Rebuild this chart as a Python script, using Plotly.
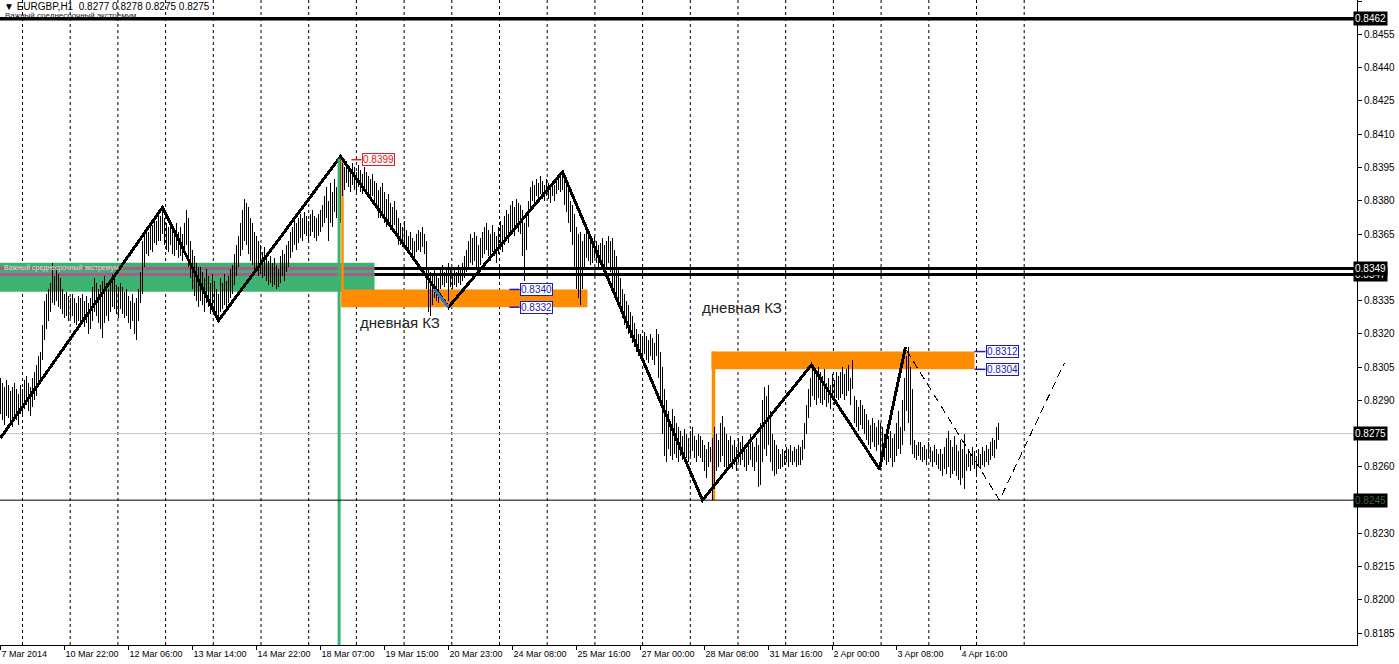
import plotly.graph_objects as go

# ---------------- data ----------------
title_text = "EURGBP,H1  0.8277 0.8278 0.8275 0.8275"
subtitle_text = "Важный среднесрочный экстремум"
zone_label = "дневная КЗ"

highs = [
    0.8300,0.8298,0.8296,0.8299,0.8297,0.8294,0.8296,0.8298,0.8295,0.8293,
    0.8297,0.8295,0.8299,0.8301,0.8298,0.8296,0.8300,0.8303,0.8306,0.8310,
    0.8312,0.8324,0.8335,0.8338,0.8340,0.8343,0.8352,0.8346,0.8349,0.8347,
    0.8345,0.8340,0.8338,0.8339,0.8337,0.8336,0.8338,0.8336,0.8334,0.8337,
    0.8336,0.8338,0.8335,0.8337,0.8334,0.8336,0.8341,0.8345,0.8343,0.8340,
    0.8342,0.8344,0.8346,0.8343,0.8340,0.8344,0.8347,0.8345,0.8342,0.8341,
    0.8343,0.8341,0.8339,0.8340,0.8337,0.8335,0.8338,0.8334,0.8336,0.8340,
    0.8348,0.8362,0.8365,0.8368,0.8366,0.8370,0.8369,0.8372,0.8371,0.8374,
    0.8373,0.8377,0.8372,0.8370,0.8368,0.8371,0.8369,0.8367,0.8370,0.8366,
    0.8368,0.8365,0.8370,0.8376,0.8372,0.8362,0.8358,0.8355,0.8352,0.8350,
    0.8350,0.8348,0.8345,0.8349,0.8346,0.8343,0.8347,0.8344,0.8340,0.8338,
    0.8345,0.8343,0.8347,0.8344,0.8346,0.8349,0.8351,0.8356,0.8360,0.8364,
    0.8370,0.8376,0.8381,0.8379,0.8377,0.8372,0.8370,0.8366,0.8364,0.8362,
    0.8360,0.8357,0.8359,0.8356,0.8353,0.8355,0.8352,0.8354,0.8351,0.8349,
    0.8355,0.8358,0.8356,0.8360,0.8362,0.8366,0.8368,0.8371,0.8370,0.8372,
    0.8374,0.8372,0.8375,0.8373,0.8371,0.8374,0.8376,0.8373,0.8372,0.8374,
    0.8376,0.8378,0.8382,0.8386,0.8380,0.8388,0.8384,0.8390,0.8386,0.8393,
    0.8399,0.8397,0.8395,0.8398,0.8396,0.8394,0.8397,0.8395,0.8393,0.8396,
    0.8394,0.8392,0.8395,0.8393,0.8391,0.8390,0.8392,0.8389,0.8388,0.8385,
    0.8386,0.8388,0.8384,0.8381,0.8383,0.8379,0.8377,0.8380,0.8376,0.8372,
    0.8370,0.8368,0.8371,0.8367,0.8364,0.8366,0.8363,0.8362,0.8365,0.8367,
    0.8366,0.8368,0.8365,0.8362,0.8350,0.8348,0.8346,0.8349,0.8347,0.8345,
    0.8349,0.8351,0.8348,0.8350,0.8352,0.8349,0.8347,0.8350,0.8348,0.8351,
    0.8350,0.8352,0.8355,0.8358,0.8362,0.8365,0.8363,0.8366,0.8364,0.8360,
    0.8363,0.8366,0.8368,0.8370,0.8367,0.8365,0.8369,0.8366,0.8364,0.8368,
    0.8371,0.8369,0.8373,0.8376,0.8374,0.8378,0.8380,0.8377,0.8381,0.8379,
    0.8378,0.8376,0.8370,0.8374,0.8380,0.8386,0.8389,0.8387,0.8390,0.8388,
    0.8391,0.8389,0.8387,0.8390,0.8388,0.8386,0.8389,0.8387,0.8390,0.8392,
    0.8391,0.8393,0.8390,0.8388,0.8385,0.8380,0.8378,0.8374,0.8368,0.8365,
    0.8366,0.8362,0.8365,0.8368,0.8366,0.8363,0.8361,0.8364,0.8362,0.8360,
    0.8361,0.8363,0.8360,0.8362,0.8364,0.8362,0.8363,0.8358,0.8355,0.8350,
    0.8345,0.8340,0.8338,0.8335,0.8333,0.8330,0.8328,0.8325,0.8322,0.8320,
    0.8320,0.8318,0.8321,0.8319,0.8317,0.8320,0.8318,0.8316,0.8322,0.8320,
    0.8312,0.8305,0.8295,0.8290,0.8285,0.8280,0.8286,0.8283,0.8280,0.8278,
    0.8276,0.8274,0.8277,0.8275,0.8273,0.8276,0.8278,0.8274,0.8272,0.8275,
    0.8274,0.8272,0.8270,0.8268,0.8271,0.8269,0.8273,0.8278,0.8275,0.8272,
    0.8280,0.8283,0.8278,0.8275,0.8272,0.8274,0.8270,0.8272,0.8269,0.8273,
    0.8271,0.8274,0.8270,0.8268,0.8272,0.8275,0.8271,0.8269,0.8273,0.8270,
    0.8280,0.8290,0.8296,0.8292,0.8297,0.8285,0.8275,0.8272,0.8270,0.8268,
    0.8266,0.8268,0.8267,0.8269,0.8268,0.8270,0.8267,0.8269,0.8268,0.8270,
    0.8269,0.8272,0.8280,0.8288,0.8295,0.8300,0.8306,0.8304,0.8302,0.8305,
    0.8303,0.8301,0.8304,0.8298,0.8300,0.8297,0.8302,0.8299,0.8303,0.8301,
    0.8303,0.8305,0.8302,0.8304,0.8306,0.8300,0.8308,0.8292,0.8290,0.8287,
    0.8290,0.8288,0.8286,0.8284,0.8281,0.8279,0.8282,0.8280,0.8278,0.8281,
    0.8280,0.8278,0.8275,0.8277,0.8274,0.8276,0.8273,0.8275,0.8280,0.8285,
    0.8278,0.8290,0.8300,0.8310,0.8314,0.8305,0.8295,0.8272,0.8270,0.8271,
    0.8271,0.8269,0.8270,0.8268,0.8271,0.8269,0.8267,0.8270,0.8268,0.8266,
    0.8268,0.8266,0.8269,0.8273,0.8276,0.8272,0.8269,0.8274,0.8270,0.8267,
    0.8272,0.8268,0.8275,0.8266,0.8268,0.8266,0.8269,0.8267,0.8265,0.8268,
    0.8266,0.8269,0.8267,0.8270,0.8268,0.8271,0.8273,0.8272,0.8278,0.8280,
]

lows = [
    0.8284,0.8281,0.8279,0.8283,0.8282,0.8280,0.8278,0.8282,0.8281,0.8279,
    0.8284,0.8283,0.8286,0.8288,0.8285,0.8283,0.8287,0.8290,0.8292,0.8297,
    0.8298,0.8308,0.8317,0.8322,0.8326,0.8330,0.8334,0.8333,0.8335,0.8332,
    0.8331,0.8329,0.8327,0.8328,0.8326,0.8327,0.8328,0.8325,0.8324,0.8326,
    0.8325,0.8326,0.8323,0.8325,0.8320,0.8322,0.8326,0.8330,0.8328,0.8325,
    0.8322,0.8318,0.8325,0.8328,0.8326,0.8330,0.8332,0.8331,0.8329,0.8327,
    0.8331,0.8329,0.8327,0.8328,0.8325,0.8322,0.8326,0.8320,0.8317,0.8326,
    0.8334,0.8338,0.8350,0.8356,0.8355,0.8358,0.8357,0.8361,0.8360,0.8362,
    0.8362,0.8365,0.8360,0.8358,0.8357,0.8360,0.8356,0.8355,0.8358,0.8354,
    0.8355,0.8353,0.8356,0.8360,0.8350,0.8345,0.8340,0.8337,0.8335,0.8332,
    0.8335,0.8333,0.8330,0.8334,0.8332,0.8329,0.8331,0.8328,0.8327,0.8326,
    0.8330,0.8331,0.8333,0.8332,0.8334,0.8336,0.8338,0.8342,0.8346,0.8350,
    0.8355,0.8358,0.8362,0.8360,0.8356,0.8353,0.8351,0.8348,0.8349,0.8346,
    0.8347,0.8345,0.8346,0.8344,0.8342,0.8343,0.8341,0.8342,0.8340,0.8341,
    0.8343,0.8346,0.8344,0.8348,0.8350,0.8354,0.8357,0.8360,0.8358,0.8361,
    0.8363,0.8362,0.8365,0.8364,0.8362,0.8364,0.8366,0.8363,0.8362,0.8364,
    0.8366,0.8368,0.8370,0.8372,0.8362,0.8370,0.8368,0.8375,0.8372,0.8378,
    0.8370,0.8382,0.8385,0.8388,0.8386,0.8384,0.8387,0.8385,0.8383,0.8386,
    0.8384,0.8383,0.8385,0.8383,0.8382,0.8380,0.8382,0.8379,0.8377,0.8372,
    0.8372,0.8374,0.8370,0.8368,0.8371,0.8367,0.8366,0.8369,0.8364,0.8360,
    0.8360,0.8359,0.8361,0.8358,0.8356,0.8358,0.8355,0.8354,0.8357,0.8358,
    0.8357,0.8359,0.8356,0.8340,0.8330,0.8328,0.8333,0.8336,0.8335,0.8334,
    0.8340,0.8342,0.8341,0.8343,0.8335,0.8341,0.8340,0.8342,0.8341,0.8343,
    0.8342,0.8344,0.8345,0.8348,0.8350,0.8352,0.8351,0.8353,0.8350,0.8349,
    0.8351,0.8354,0.8356,0.8358,0.8355,0.8353,0.8357,0.8355,0.8352,0.8356,
    0.8358,0.8357,0.8360,0.8363,0.8361,0.8365,0.8367,0.8364,0.8368,0.8366,
    0.8365,0.8355,0.8344,0.8358,0.8368,0.8375,0.8380,0.8379,0.8382,0.8380,
    0.8383,0.8381,0.8380,0.8382,0.8381,0.8379,0.8382,0.8380,0.8383,0.8385,
    0.8384,0.8385,0.8378,0.8375,0.8370,0.8366,0.8360,0.8350,0.8340,0.8336,
    0.8333,0.8340,0.8350,0.8354,0.8353,0.8351,0.8352,0.8354,0.8352,0.8350,
    0.8351,0.8352,0.8350,0.8349,0.8352,0.8348,0.8340,0.8338,0.8335,0.8332,
    0.8330,0.8327,0.8324,0.8322,0.8320,0.8318,0.8316,0.8314,0.8312,0.8310,
    0.8310,0.8309,0.8311,0.8308,0.8307,0.8310,0.8308,0.8306,0.8310,0.8300,
    0.8290,0.8275,0.8265,0.8262,0.8268,0.8265,0.8263,0.8266,0.8264,0.8262,
    0.8265,0.8263,0.8266,0.8264,0.8262,0.8265,0.8267,0.8264,0.8262,0.8265,
    0.8264,0.8262,0.8258,0.8255,0.8260,0.8262,0.8245,0.8250,0.8258,0.8260,
    0.8262,0.8265,0.8260,0.8258,0.8260,0.8262,0.8259,0.8261,0.8258,0.8262,
    0.8261,0.8263,0.8260,0.8258,0.8261,0.8263,0.8260,0.8258,0.8262,0.8251,
    0.8252,0.8262,0.8268,0.8265,0.8270,0.8262,0.8258,0.8256,0.8257,0.8259,
    0.8259,0.8260,0.8261,0.8262,0.8260,0.8262,0.8261,0.8262,0.8260,0.8261,
    0.8261,0.8263,0.8268,0.8275,0.8282,0.8287,0.8292,0.8290,0.8288,0.8291,
    0.8289,0.8288,0.8290,0.8287,0.8289,0.8286,0.8290,0.8288,0.8291,0.8290,
    0.8291,0.8293,0.8290,0.8292,0.8294,0.8288,0.8295,0.8280,0.8278,0.8276,
    0.8279,0.8277,0.8275,0.8272,0.8270,0.8268,0.8271,0.8269,0.8267,0.8270,
    0.8260,0.8262,0.8263,0.8261,0.8262,0.8264,0.8260,0.8262,0.8265,0.8268,
    0.8266,0.8270,0.8276,0.8285,0.8280,0.8270,0.8266,0.8264,0.8263,0.8265,
    0.8263,0.8262,0.8263,0.8261,0.8264,0.8262,0.8260,0.8262,0.8261,0.8259,
    0.8258,0.8256,0.8259,0.8257,0.8260,0.8255,0.8257,0.8258,0.8256,0.8254,
    0.8252,0.8255,0.8250,0.8258,0.8260,0.8258,0.8261,0.8259,0.8257,0.8260,
    0.8259,0.8261,0.8260,0.8262,0.8261,0.8263,0.8265,0.8264,0.8268,0.8272,
]

# time axis labels (bar index -> text)
tick_bars = [0, 32, 64, 96, 128, 160, 192, 224, 256, 288, 320, 352, 384, 416, 448, 480]
tick_labels = ["7 Mar 2014", "10 Mar 22:00", "12 Mar 06:00", "13 Mar 14:00", "14 Mar 22:00",
               "18 Mar 07:00", "19 Mar 15:00", "20 Mar 23:00", "24 Mar 08:00", "25 Mar 16:00",
               "27 Mar 00:00", "28 Mar 08:00", "31 Mar 16:00", "2 Apr 00:00", "3 Apr 08:00",
               "4 Apr 16:00"]

price_ticks = [0.8470, 0.8455, 0.8440, 0.8425, 0.8410, 0.8395, 0.8380, 0.8365, 0.8335,
               0.8320, 0.8305, 0.8290, 0.8260, 0.8230, 0.8215, 0.8200, 0.8185]

# zigzag vertices (bar index, price)
zz_x = [0, 81, 109, 170, 224, 281, 351, 405.5, 439.5, 452.5]
zz_y = [0.8273, 0.8377, 0.8326, 0.8400, 0.8332, 0.8393, 0.8245, 0.8306, 0.8259, 0.8314]
blue_x = [217, 224]
blue_y = [0.8340, 0.8332]
proj_x = [453, 499.5, 532]
proj_y = [0.83125, 0.8245, 0.8307]

# horizontal levels
level_major = 0.8462
level_pair = [0.83494, 0.83467]
level_pair_labels = ["0.8347", "0.8349"]
level_bid = 0.8275
level_low = 0.8245

# zones
green_zone = (0.8339, 0.8352)
green_zone_end = 187
zone1 = dict(x0=170.5, x1=293.5, lo=0.8332, hi=0.8340, top=0.8399)
zone2 = dict(x0=355.5, x1=487.0, lo=0.8304, hi=0.8312, bottom=0.8245)
peak_price = 0.8399
peak_bar = 169.3

X_MIN = -0.25
X_MAX = X_MIN + 1357 / 2
Y_MIN, Y_MAX = 0.81797, 0.84705
GRID_START, GRID_STEP, GRID_END = 11.0, 23.85, 513.0

# ---------------- figure ----------------
fig = go.Figure()

bx, by = [], []
for i, (h, l) in enumerate(zip(highs, lows)):
    bx += [i, i, None]
    by += [l, h, None]
fig.add_trace(go.Scatter(x=bx, y=by, mode="lines", line=dict(color="black", width=1),
                         hoverinfo="skip", showlegend=False))

fig.add_trace(go.Scatter(x=zz_x, y=zz_y, mode="lines", line=dict(color="black", width=3),
                         showlegend=False))
fig.add_trace(go.Scatter(x=blue_x, y=blue_y, mode="lines", line=dict(color="#3474C4", width=3),
                         showlegend=False))
fig.add_trace(go.Scatter(x=proj_x, y=proj_y, mode="lines",
                         line=dict(color="black", width=1, dash="8px,5px"), showlegend=False))

shapes = []
# vertical dashed grid
g = GRID_START
while g < GRID_END:
    shapes.append(dict(type="line", xref="x", yref="paper", x0=g, x1=g, y0=0, y1=1,
                       line=dict(color="black", width=1, dash="3px,3px"), layer="below"))
    g += GRID_STEP

ORANGE = "#FF8C00"
GREEN = "#3CB371"
# green zone
shapes.append(dict(type="rect", xref="x", yref="y", x0=X_MIN, x1=green_zone_end,
                   y0=green_zone[0], y1=green_zone[1], fillcolor=GREEN, line=dict(width=0),
                   layer="below"))
for lv in level_pair:
    shapes.append(dict(type="line", xref="x", yref="y", x0=X_MIN, x1=green_zone_end, y0=lv, y1=lv,
                       line=dict(color="#B0558F", width=3), layer="below"))
# orange zones
shapes.append(dict(type="rect", xref="x", yref="y", x0=zone1["x0"], x1=zone1["x1"],
                   y0=zone1["lo"], y1=zone1["hi"], fillcolor=ORANGE, line=dict(width=0), layer="below"))
shapes.append(dict(type="rect", xref="x", yref="y", x0=zone2["x0"], x1=zone2["x1"],
                   y0=zone2["lo"], y1=zone2["hi"], fillcolor=ORANGE, line=dict(width=0), layer="below"))
shapes.append(dict(type="line", xref="x", yref="y", x0=zone1["x0"] + 0.5, x1=zone1["x0"] + 0.5,
                   y0=zone1["lo"], y1=zone1["top"], line=dict(color=ORANGE, width=2.5), layer="below"))
shapes.append(dict(type="line", xref="x", yref="y", x0=zone2["x0"] + 1, x1=zone2["x0"] + 1,
                   y0=zone2["bottom"], y1=zone2["hi"], line=dict(color=ORANGE, width=3.5), layer="below"))
# green vertical line
shapes.append(dict(type="line", xref="x", yref="y", x0=peak_bar, x1=peak_bar, y0=Y_MIN, y1=peak_price,
                   line=dict(color=GREEN, width=3)))
# horizontal levels
shapes.append(dict(type="line", xref="x", yref="y", x0=X_MIN, x1=X_MAX, y0=level_major, y1=level_major,
                   line=dict(color="black", width=3.5)))
for lv in level_pair:
    shapes.append(dict(type="line", xref="x", yref="y", x0=green_zone_end, x1=X_MAX, y0=lv, y1=lv,
                       line=dict(color="black", width=3)))
shapes.append(dict(type="line", xref="x", yref="y", x0=X_MIN, x1=X_MAX, y0=level_bid, y1=level_bid,
                   line=dict(color="#C0C0C0", width=1), layer="below"))
shapes.append(dict(type="line", xref="x", yref="y", x0=X_MIN, x1=X_MAX, y0=level_low, y1=level_low,
                   line=dict(color="black", width=1)))

# price label connectors
BLUE = "#1C1CB8"
for lv in (zone1["hi"], zone1["lo"]):
    shapes.append(dict(type="line", xref="x", yref="y", x0=254.5, x1=259.5, y0=lv, y1=lv,
                       line=dict(color=BLUE, width=1.5)))
for lv in (zone2["hi"], zone2["lo"]):
    shapes.append(dict(type="line", xref="x", yref="y", x0=487.0, x1=492.5, y0=lv, y1=lv,
                       line=dict(color=BLUE, width=1.5)))
shapes.append(dict(type="line", xref="x", yref="y", x0=175.5, x1=180.5, y0=0.83985, y1=0.83985,
                   line=dict(color="#E02020", width=1.5)))

annotations = []
FONT = "Liberation Sans, Arial, sans-serif"


def price_box(x, y, text, color):
    annotations.append(dict(x=x, y=y, xref="x", yref="y", text=text, showarrow=False,
                            xanchor="left", yanchor="middle", bgcolor="white", bordercolor=color,
                            borderwidth=1, borderpad=0, font=dict(family=FONT, size=10, color=color)))


price_box(259.5, zone1["hi"], "0.8340", BLUE)
price_box(259.5, zone1["lo"], "0.8332", BLUE)
price_box(492.5, zone2["hi"], "0.8312", BLUE)
price_box(492.5, zone2["lo"], "0.8304", BLUE)
price_box(180.5, 0.83985, "0.8399", "#E02020")

annotations.append(dict(x=178.5, y=0.8325, xref="x", yref="y", text=zone_label, showarrow=False,
                        xanchor="left", yanchor="middle", font=dict(family=FONT, size=15, color="#222")))
annotations.append(dict(x=349.5, y=0.8332, xref="x", yref="y", text=zone_label, showarrow=False,
                        xanchor="left", yanchor="middle", font=dict(family=FONT, size=15, color="#222")))
# small caption inside the green zone
annotations.append(dict(x=X_MIN, y=green_zone[1], xref="x", yref="y", text=subtitle_text, showarrow=False,
                        xanchor="left", yanchor="top", xshift=2, yshift=1,
                        font=dict(family=FONT, size=7, color="#CDEFD5")))


def axis_box(y, text, fcolor="white"):
    annotations.append(dict(x=1.0, y=y, xref="paper", yref="y", text=text, showarrow=False,
                            xanchor="left", yanchor="middle", xshift=-4, bgcolor="black",
                            borderpad=1, font=dict(family=FONT, size=10, color=fcolor)))


axis_box(level_major, "0.8462")
axis_box(level_pair[1], level_pair_labels[0])
axis_box(level_pair[0], level_pair_labels[1])
axis_box(level_bid, "0.8275")
axis_box(level_low, "0.8245", "#3E5E3E")

annotations.append(dict(x=0, y=1, xref="paper", yref="paper", text="▼ " + title_text, showarrow=False,
                        xanchor="left", yanchor="top", xshift=2, yshift=1,
                        font=dict(family=FONT, size=10, color="black")))
annotations.append(dict(x=0, y=1, xref="paper", yref="paper", text=subtitle_text, showarrow=False,
                        xanchor="left", yanchor="top", xshift=3, yshift=-9,
                        font=dict(family=FONT, size=8, color="#222")))

fig.update_layout(
    width=1399, height=664,
    margin=dict(l=0, r=42, t=0, b=19),
    plot_bgcolor="white", paper_bgcolor="white",
    shapes=shapes, annotations=annotations, showlegend=False,
    xaxis=dict(range=[X_MIN, X_MAX], showgrid=False, zeroline=False, showline=True, linecolor="black",
               linewidth=1, tickmode="array", tickvals=tick_bars, ticktext=tick_labels,
               ticks="outside", ticklen=4, tickcolor="black", ticklabelposition="outside right",
               tickfont=dict(family=FONT, size=9, color="black")),
    yaxis=dict(range=[Y_MIN, Y_MAX], side="right", showgrid=False, zeroline=False, showline=True,
               linecolor="black", linewidth=1, tickmode="array", tickvals=price_ticks,
               ticktext=[f"{v:.4f}" for v in price_ticks], ticks="outside", ticklen=4,
               tickcolor="black", tickfont=dict(family=FONT, size=10, color="black")),
)

post_js = (
    "document.body.style.margin='0';document.body.style.overflow='hidden';"
    "document.querySelectorAll('.scatterlayer .js-line').forEach(function(p){p.style.shapeRendering='crispEdges';});"
)
fig.write_html("out.html", post_script=post_js, config={"displayModeBar": False})
